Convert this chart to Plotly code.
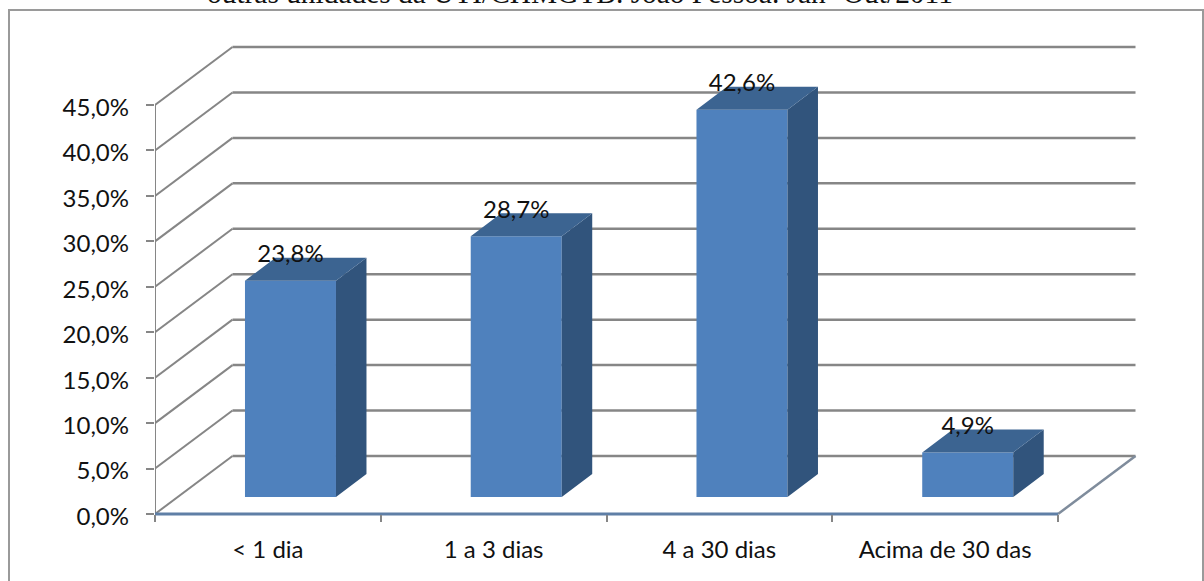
import plotly.graph_objects as go

categories = ["< 1 dia", "1 a 3 dias", "4 a 30 dias", "Acima de 30 das"]
values = [23.8, 28.7, 42.6, 4.9]
value_labels = ["23,8%", "28,7%", "42,6%", "4,9%"]
y_ticks = [0, 5, 10, 15, 20, 25, 30, 35, 40, 45]
y_tick_labels = ["0,0%", "5,0%", "10,0%", "15,0%", "20,0%", "25,0%", "30,0%", "35,0%", "40,0%", "45,0%"]
title_text = "outras unidades da UTI/CHMGTB. João Pessoa. Jan- Out/2011"

W, H = 1204, 581
AXIS_Y = 514
L, R, T, B = 155, 1140, 40, 520
PX_CAT = (1058 - 155) / 4
PX_PCT = (514 - 105) / 45
WALL_DX, WALL_DY = 77.5 / PX_CAT, 58 / PX_PCT
BAR_OFF, BAR_W = 22.6 / PX_CAT, 91 / PX_CAT
BAR_DX, BAR_DY = 30.5 / PX_CAT, 23 / PX_PCT
FLOOR = 17 / PX_PCT
LABEL_SHIFT = 2.5 / PX_PCT
X0, X1 = -0.5, 3.5
GRID = "#868686"
FRONT, SIDE, TOP = "#4F81BD", "#31547C", "#3C6491"
FONT = "Lato"

shapes = []
for t in y_ticks:
    shapes.append(dict(type="line", xref="x", yref="y", layer="below", x0=X0, y0=t, x1=X0 + WALL_DX, y1=t + WALL_DY,
                       line=dict(color=GRID, width=2)))
    shapes.append(dict(type="line", xref="x", yref="y", layer="below", x0=X0 + WALL_DX, y0=t + WALL_DY,
                       x1=X1 + WALL_DX, y1=t + WALL_DY, line=dict(color=GRID, width=2.5)))
shapes.append(dict(type="line", xref="x", yref="y", layer="below", x0=X1, y0=0, x1=X1 + WALL_DX, y1=WALL_DY,
                   line=dict(color="#7F8C9C", width=2.5)))
# outer frame, in paper fractions
shapes.append(dict(type="rect", xref="paper", yref="paper", layer="below",
                   x0=(9 - L) / (R - L), x1=(1203 - L) / (R - L),
                   y0=(B - 600) / (B - T), y1=(B - 10) / (B - T),
                   line=dict(color="#9A9A9A", width=2)))

fig = go.Figure()
fig.add_trace(go.Bar(x=[i + BAR_OFF for i in range(4)], y=values, base=[FLOOR] * 4, width=BAR_W,
                     marker=dict(color=FRONT, line=dict(width=0)), showlegend=False))

side_x, side_y, top_x, top_y = [], [], [], []
for i, v in enumerate(values):
    left = i + BAR_OFF - BAR_W / 2
    right = left + BAR_W
    top = FLOOR + v
    side_x += [right, right + BAR_DX, right + BAR_DX, right, right, None]
    side_y += [FLOOR, FLOOR + BAR_DY, top + BAR_DY, top, FLOOR, None]
    top_x += [left, left + BAR_DX, right + BAR_DX, right, left, None]
    top_y += [top, top + BAR_DY, top + BAR_DY, top, top, None]
fig.add_trace(go.Scatter(x=side_x, y=side_y, mode="lines", fill="toself", fillcolor=SIDE,
                         line=dict(width=0), showlegend=False))
fig.add_trace(go.Scatter(x=top_x, y=top_y, mode="lines", fill="toself", fillcolor=TOP,
                         line=dict(width=0), showlegend=False))

# front axis lines
fig.add_trace(go.Scatter(x=[X0, X0], y=[0, y_ticks[-1]], mode="lines", cliponaxis=False,
                         line=dict(color=GRID, width=2), showlegend=False))
fig.add_trace(go.Scatter(x=[X0, X1], y=[0, 0], mode="lines", cliponaxis=False,
                         line=dict(color="#5F7FA6", width=3), showlegend=False))

# data labels
fig.add_trace(go.Scatter(x=[i + BAR_OFF for i in range(4)], y=[v + FLOOR + 24.5 / PX_PCT for v in values],
                         mode="text", text=value_labels, textposition="middle center", cliponaxis=False,
                         textfont=dict(family=FONT, size=24, color="#111111"), showlegend=False))

fig.add_annotation(xref="paper", yref="paper", x=(579.5 - L) / (R - L), y=(B + 7) / (B - T),
                   text=title_text, showarrow=False, xanchor="center", yanchor="middle",
                   font=dict(family="Liberation Serif", size=29.4, color="#111111"))

fig.update_layout(
    width=W, height=H, margin=dict(l=L, r=W - R, t=T, b=H - B, pad=0),
    paper_bgcolor="white", plot_bgcolor="white", shapes=shapes, hovermode=False,
    xaxis=dict(range=[X0, X0 + (R - L) / PX_CAT], tickmode="array", tickvals=list(range(4)), ticktext=categories,
               anchor="free", position=(B - AXIS_Y) / (B - T),
               ticks="", showgrid=False, zeroline=False, showline=False, ticklabelstandoff=19,
               tickfont=dict(family=FONT, size=24, color="#111111"),
               minor=dict(tickmode="array", tickvals=[-0.5, 0.5, 1.5, 2.5, 3.5], ticks="outside", ticklen=7,
                          tickcolor=GRID, tickwidth=2, showgrid=False)),
    yaxis=dict(range=[-(B - AXIS_Y) / PX_PCT, (AXIS_Y - T) / PX_PCT], tickmode="array",
               tickvals=[t - LABEL_SHIFT for t in y_ticks],
               ticktext=y_tick_labels, ticks="", showgrid=False, zeroline=False,
               showline=False, ticklabelstandoff=25,
               tickfont=dict(family=FONT, size=24, color="#111111"),
               minor=dict(tickmode="array", tickvals=y_ticks, ticks="outside", ticklen=8,
                          tickcolor=GRID, tickwidth=2, showgrid=False)),
)

fig.write_html("out.html", config={"displayModeBar": False},
               post_script="document.body.style.margin='0';document.body.style.overflow='hidden';")
